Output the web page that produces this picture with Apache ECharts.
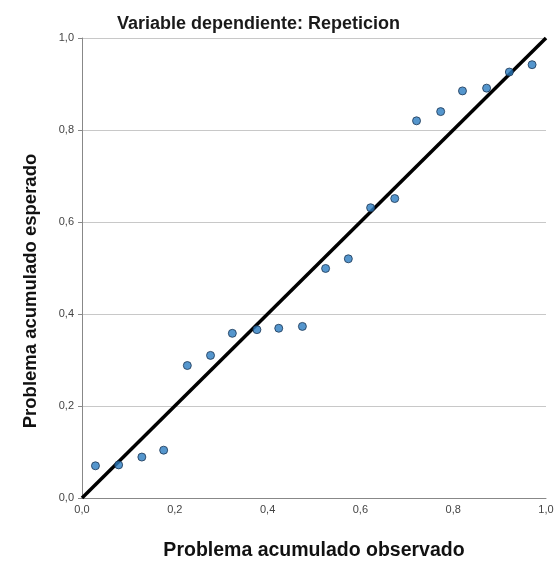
<!DOCTYPE html>
<html><head><meta charset="utf-8">
<script src="https://cdn.jsdelivr.net/npm/echarts@6/dist/echarts.min.js"></script>
<style>html,body{margin:0;padding:0;background:#fff}#c{width:558px;height:566px}</style>
</head><body><div id="c"></div>
<script>
var titleText = "Variable dependiente: Repeticion";
var xName = "Problema acumulado observado";
var yName = "Problema acumulado esperado";
var observed = [0.029,0.079,0.129,0.176,0.227,0.277,0.324,0.377,0.424,0.475,0.525,0.574,0.622,0.674,0.721,0.773,0.820,0.872,0.921,0.970];
var expected = [0.070,0.072,0.089,0.104,0.288,0.310,0.358,0.366,0.369,0.373,0.499,0.520,0.631,0.651,0.820,0.840,0.885,0.891,0.926,0.942];
var refLine = [[0,0],[1,1]];

var pts = observed.map(function(v,i){return [v, expected[i]];});
var fmt = function(v){return v.toFixed(1).replace('.', ',');};
var chart = echarts.init(document.getElementById('c'));
chart.setOption({
  animation:false,
  textStyle:{fontFamily:'Liberation Sans, Arial, sans-serif'},
  title:{text:titleText, left:112, top:10, textStyle:{fontSize:18, fontWeight:'bold', color:'#1a1a1a', fontFamily:'Liberation Sans, Arial, sans-serif'}},
  grid:{left:82, right:12, top:38, bottom:66},
  xAxis:{type:'value', min:0, max:1, interval:0.2, name:xName, nameLocation:'middle', nameGap:43,
    nameTextStyle:{fontSize:19.5, fontWeight:'bold', color:'#111'},
    axisLine:{show:true, lineStyle:{color:'#888', width:1}},
    axisTick:{show:false},
    splitLine:{show:false},
    axisLabel:{formatter:fmt, color:'#444', fontSize:11, margin:6}},
  yAxis:{type:'value', min:0, max:1, interval:0.2, name:yName, nameLocation:'middle', nameGap:42,
    nameTextStyle:{fontSize:18.5, fontWeight:'bold', color:'#111', padding:[0,46,0,0]},
    axisLine:{show:true, lineStyle:{color:'#888', width:1}},
    axisTick:{show:true, length:4, lineStyle:{color:'#888'}},
    splitLine:{show:true, lineStyle:{color:'#c8c8c8', width:1}},
    axisLabel:{formatter:fmt, color:'#444', fontSize:11, margin:8}},
  series:[
    {type:'line', data:refLine, symbol:'none', lineStyle:{color:'#000', width:3.5}, z:2},
    {type:'scatter', data:pts, symbol:'circle', symbolSize:8,
     itemStyle:{color:'#2b7cc0', borderColor:'#1a3552', borderWidth:1}, z:3}
  ]
});
</script></body></html>
